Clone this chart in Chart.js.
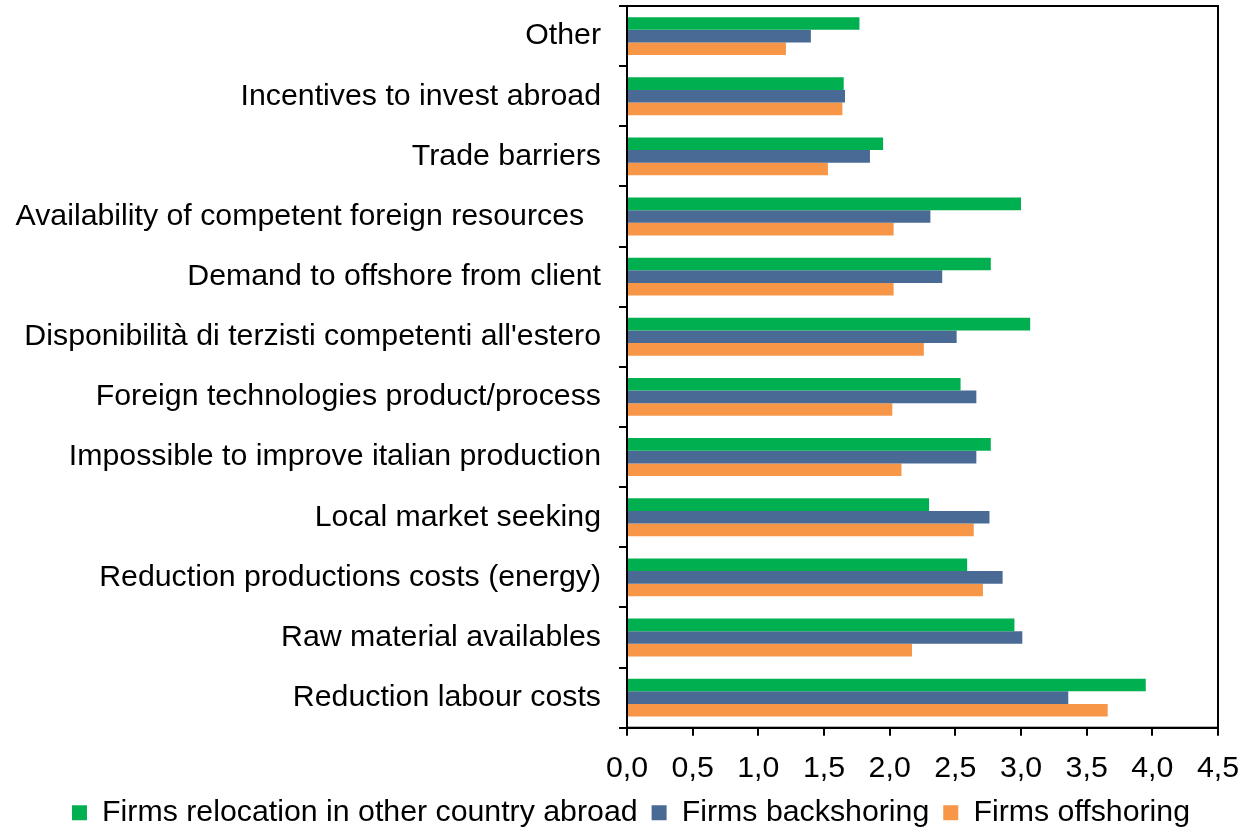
<!DOCTYPE html>
<html>
<head>
<meta charset="utf-8">
<script src="https://cdn.jsdelivr.net/npm/chart.js@4/dist/chart.umd.min.js"></script>
<style>
  html, body { margin: 0; padding: 0; background: #fff; }
  #wrap { width: 1241px; height: 827px; }
</style>
</head>
<body>
<div id="wrap"><canvas id="chart"></canvas></div>
<script>
const categories = [
  'Other',
  'Incentives to invest abroad',
  'Trade barriers',
  'Availability of competent foreign resources  ',
  'Demand to offshore from client',
  "Disponibilità di terzisti competenti all'estero",
  'Foreign technologies product/process',
  'Impossible to improve italian production',
  'Local market seeking',
  'Reduction productions costs (energy)',
  'Raw material availables',
  'Reduction labour costs'
];
const relocation = [1.77, 1.65, 1.95, 3.00, 2.77, 3.07, 2.54, 2.77, 2.30, 2.59, 2.95, 3.95];
const backshoring = [1.40, 1.66, 1.85, 2.31, 2.40, 2.51, 2.66, 2.66, 2.76, 2.86, 3.01, 3.36];
const offshoring = [1.21, 1.64, 1.53, 2.03, 2.03, 2.26, 2.02, 2.09, 2.64, 2.71, 2.17, 3.66];

const font = { family: 'Liberation Sans, Arial, sans-serif', size: 30.3 };

// box around the plot area (top and right edges)
const frame = {
  id: 'frame',
  afterLayout(chart) {
    // nudge the legend a bit to the right, like the original
    chart.legend.left += 32;
  },
  afterDraw(chart) {
    const { ctx, chartArea: a } = chart;
    ctx.save();
    ctx.strokeStyle = '#000';
    ctx.lineWidth = 2;
    ctx.strokeRect(a.left, a.top, a.right - a.left, a.bottom - a.top);
    ctx.restore();
  }
};

new Chart(document.getElementById('chart'), {
  type: 'bar',
  data: {
    labels: categories,
    datasets: [
      { label: 'Firms relocation in other country abroad', data: relocation, backgroundColor: '#00B050' },
      { label: 'Firms backshoring', data: backshoring, backgroundColor: '#4A6A96' },
      { label: 'Firms offshoring', data: offshoring, backgroundColor: '#F79646' }
    ]
  },
  options: {
    indexAxis: 'y',
    responsive: true,
    maintainAspectRatio: false,
    animation: false,
    datasets: { bar: { categoryPercentage: 0.63, barPercentage: 1 } },
    layout: { padding: { top: 6, right: 23, left: 12, bottom: -11 } },
    plugins: {
      tooltip: { enabled: false },
      legend: {
        position: 'bottom',
        labels: { font: font, color: '#000', boxWidth: 15, boxHeight: 15, padding: 14 }
      }
    },
    scales: {
      x: {
        min: 0, max: 4.5,
        ticks: {
          stepSize: 0.5, font: font, color: '#000', padding: 15,
          callback: v => v.toFixed(1).replace('.', ',')
        },
        grid: { drawOnChartArea: false, tickLength: 8, color: '#000', lineWidth: 2 },
        border: { color: '#000', width: 2 },
        afterFit(scale) {
          scale.height = 56;
          scale.paddingLeft = 0;
          scale.paddingRight = 0;
        }
      },
      y: {
        ticks: { font: font, color: '#000', padding: 18 },
        grid: { offset: true, drawOnChartArea: false, tickLength: 8, color: '#000', lineWidth: 2 },
        border: { color: '#000', width: 2 },
        afterFit(scale) {
          scale.width = 615;
          scale.paddingTop = 0;
          scale.paddingBottom = 0;
        }
      }
    }
  },
  plugins: [frame]
});
</script>
</body>
</html>
